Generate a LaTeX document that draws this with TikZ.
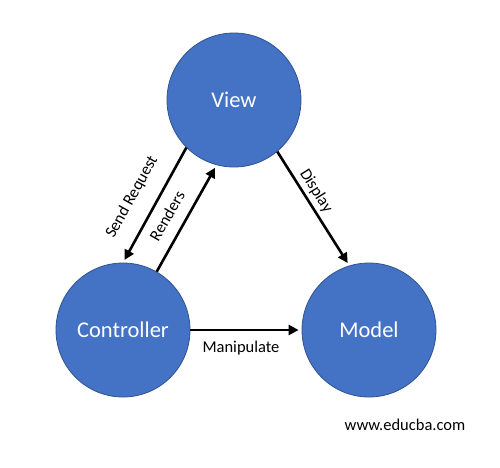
\documentclass[tikz,border=0pt]{standalone}
\usepackage{fontspec}
\setmainfont{Carlito}
\usetikzlibrary{arrows.meta}
\definecolor{mvcblue}{HTML}{4472C4}
\definecolor{mvcedge}{HTML}{2F528F}
\begin{document}
\begin{tikzpicture}[x=1pt,y=-1pt,
  comp/.style={circle, minimum size=134pt, inner sep=0pt, fill=mvcblue, draw=mvcedge, line width=0.8pt, text=white, font=\fontsize{22.5}{26}\selectfont},
  link/.style={line width=2.6pt, -{Triangle[length=10pt,width=10pt]}, shorten >=3pt},
  lbl/.style={font=\fontsize{16.5}{20}\selectfont, inner sep=0pt}]
\useasboundingbox[fill=white] (0,0) rectangle (500,467);
\node[comp] (view) at (234,100) {View};
\node[comp] (ctrl) at (123,330) {Controller};
\node[comp] (model) at (369,330) {Model};
\draw[link] (view.225.6) -- (ctrl.90);
\draw[link] (ctrl.60) -- (view.255);
\draw[link] (view.310.7) -- (model.107);
\draw[link] (ctrl.0) -- (model.180);
\node[lbl, rotate=61] (lsend) at (132,197) {Send Request};
\node[lbl, rotate=60] (lrend) at (167,216) {Renders};
\node[lbl, rotate=-58] (ldisp) at (316,191) {Display};
\node[lbl] (lmani) at (241,348) {Manipulate};
\node[lbl] (lweb) at (405,425) {www.educba.com};
\end{tikzpicture}
\end{document}
